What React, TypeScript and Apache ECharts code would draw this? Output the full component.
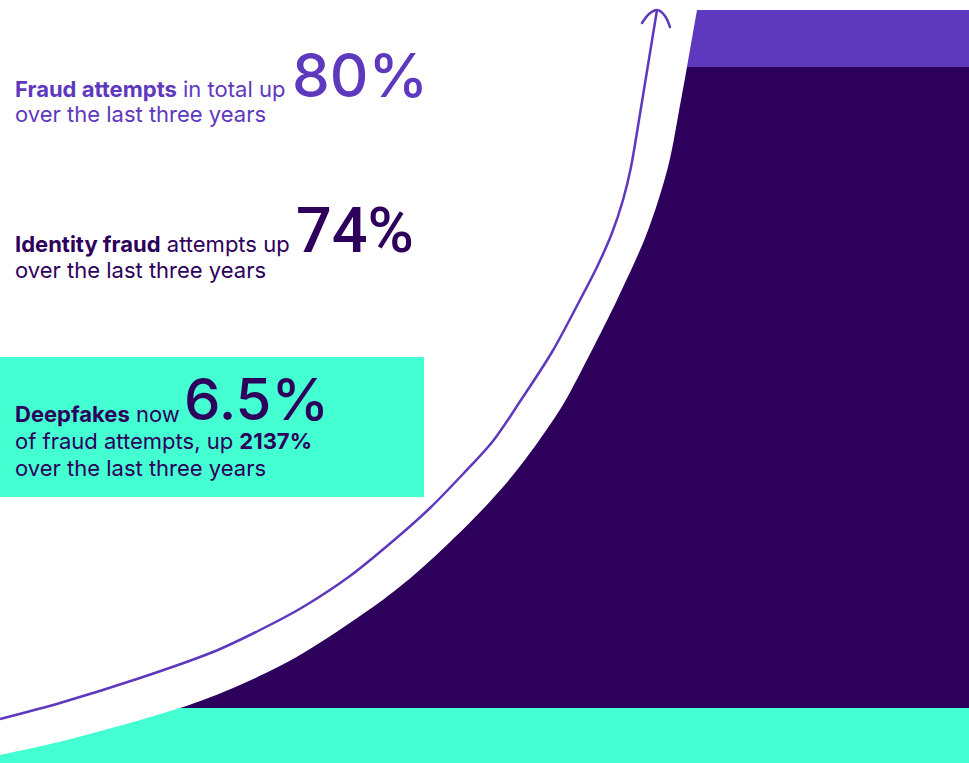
import React, { useEffect, useRef } from 'react';
import * as echarts from 'echarts';

const W = 969;
const H = 763;

// Colours
const TEAL = '#43ffd1';
const DARK = '#2d005c';
const LIGHT = '#5e38bd';

// Filled growth shape: x position and height above the bottom edge (last points run past the top and are clipped)
const areaX = [0, 67, 180, 240, 300, 373, 414, 450, 484, 513, 538, 564, 591, 617, 647, 668, 681, 687, 697, 706, 969];
const areaY = [8, 23, 55, 78, 108, 156, 188, 221, 255, 288, 321, 360, 411, 463, 530, 596, 663, 696, 753, 803, 803];

// Arrow curve
const arrowX = [0, 60, 140, 213, 260, 303, 350, 393, 430, 463, 493, 521, 552, 580, 597, 612, 623, 631, 639, 648, 657];
const arrowY = [44, 60, 85, 111, 133, 156, 187, 222, 255, 289, 322, 363, 411, 463, 496, 530, 563, 596, 643, 698, 753];

// Arrow head
const headX = [642, 649, 657, 665, 670];
const headY = [740, 749, 753, 747, 736];

// Horizontal colour bands of the shape (height above bottom)
const bandEdges = [0, 55, 696, 2000];
const bandColors = [TEAL, DARK, LIGHT];

// Texts
const block1 = { bold: 'Fraud attempts', rest: ' in total up', line2: 'over the last three years', big: '80%' };
const block2 = { bold: 'Identity fraud', rest: ' attempts up', line2: 'over the last three years', big: '74%' };
const block3 = {
  bold: 'Deepfakes',
  rest: ' now',
  line2a: 'of fraud attempts, up ',
  line2b: '2137%',
  line3: 'over the last three years',
  big: '6.5%',
};

const FONT = 'Inter, "Noto Sans", sans-serif';
const BODY = 22;

function bodyLine(x: number, baseline: number, text: string, color: string, rich?: any) {
  return {
    type: 'text',
    x,
    y: baseline - 8,
    z: 10,
    style: {
      text,
      fill: color,
      fontFamily: FONT,
      fontSize: BODY,
      fontWeight: 400,
      lineHeight: BODY,
      verticalAlign: 'middle',
      align: 'left',
      rich,
    },
  };
}

function bigNum(x: number, baseline: number, text: string, color: string, weight: number, size: number, family: string) {
  return {
    type: 'text',
    x,
    y: baseline - size * 0.36,
    z: 10,
    style: {
      text,
      fill: color,
      fontFamily: family,
      fontSize: size,
      fontWeight: weight,
      lineHeight: Math.round(size * 0.6),
      verticalAlign: 'middle',
      align: 'left',
    },
  };
}

function richStyles(color: string) {
  return {
    b: { fill: color, fontFamily: FONT, fontSize: BODY, fontWeight: 700, lineHeight: BODY },
    r: { fill: color, fontFamily: FONT, fontSize: BODY, fontWeight: 400, lineHeight: BODY },
  };
}

export default function App() {
  const ref = useRef<HTMLDivElement>(null);

  useEffect(() => {
    if (!ref.current) return;
    const chart = echarts.init(ref.current, undefined, { renderer: 'svg' });

    const pieces = bandColors.map((c, i) => ({ min: bandEdges[i], max: bandEdges[i + 1], color: c }));

    const option: any = {
      animation: false,
      backgroundColor: '#ffffff',
      grid: { left: 0, right: 0, top: 10, bottom: 0 },
      xAxis: { type: 'value', min: 0, max: W, show: false },
      yAxis: { type: 'value', min: 0, max: 753, show: false },
      visualMap: {
        type: 'piecewise',
        show: false,
        seriesIndex: 0,
        dimension: 1,
        pieces,
      },
      series: [
        {
          type: 'line',
          data: areaX.map((x, i) => [x, areaY[i]]),
          smooth: 0.3,
          symbol: 'none',
          lineStyle: { width: 0 },
          areaStyle: { opacity: 1 },
          z: 1,
        },
        {
          type: 'line',
          data: arrowX.map((x, i) => [x, arrowY[i]]),
          smooth: 0.3,
          symbol: 'none',
          clip: false,
          lineStyle: { width: 2.5, color: LIGHT },
          itemStyle: { color: LIGHT },
          z: 2,
        },
        {
          type: 'line',
          data: headX.map((x, i) => [x, headY[i]]),
          smooth: 0.3,
          symbol: 'none',
          clip: false,
          lineStyle: { width: 2.5, color: LIGHT, cap: 'round', join: 'round' },
          itemStyle: { color: LIGHT },
          z: 2,
        },
      ],
      graphic: [
        {
          type: 'rect',
          z: 5,
          shape: { x: 0, y: 357, width: 424, height: 140 },
          style: { fill: TEAL },
        },
        bodyLine(15, 97, `{b|${block1.bold}}{r|${block1.rest}}`, LIGHT, richStyles(LIGHT)),
        bodyLine(15, 122, block1.line2, LIGHT),
        bigNum(292, 97, block1.big, LIGHT, 500, 60, FONT),

        bodyLine(15, 252, `{b|${block2.bold}}{r|${block2.rest}}`, DARK, richStyles(DARK)),
        bodyLine(15, 278, block2.line2, DARK),
        bigNum(296, 253, block2.big, DARK, 500, 63, 'Roboto, sans-serif'),

        bodyLine(15, 422, `{b|${block3.bold}}{r|${block3.rest}}`, DARK, richStyles(DARK)),
        bodyLine(15, 449, `{r|${block3.line2a}}{b|${block3.line2b}}`, DARK, richStyles(DARK)),
        bodyLine(15, 476, block3.line3, DARK),
        bigNum(184, 420, block3.big, DARK, 500, 58, FONT),
      ],
    };

    chart.setOption(option);
    return () => chart.dispose();
  }, []);

  return (
    <div
      ref={ref}
      style={{ position: 'absolute', left: 0, top: 0, width: W, height: H }}
    />
  );
}
